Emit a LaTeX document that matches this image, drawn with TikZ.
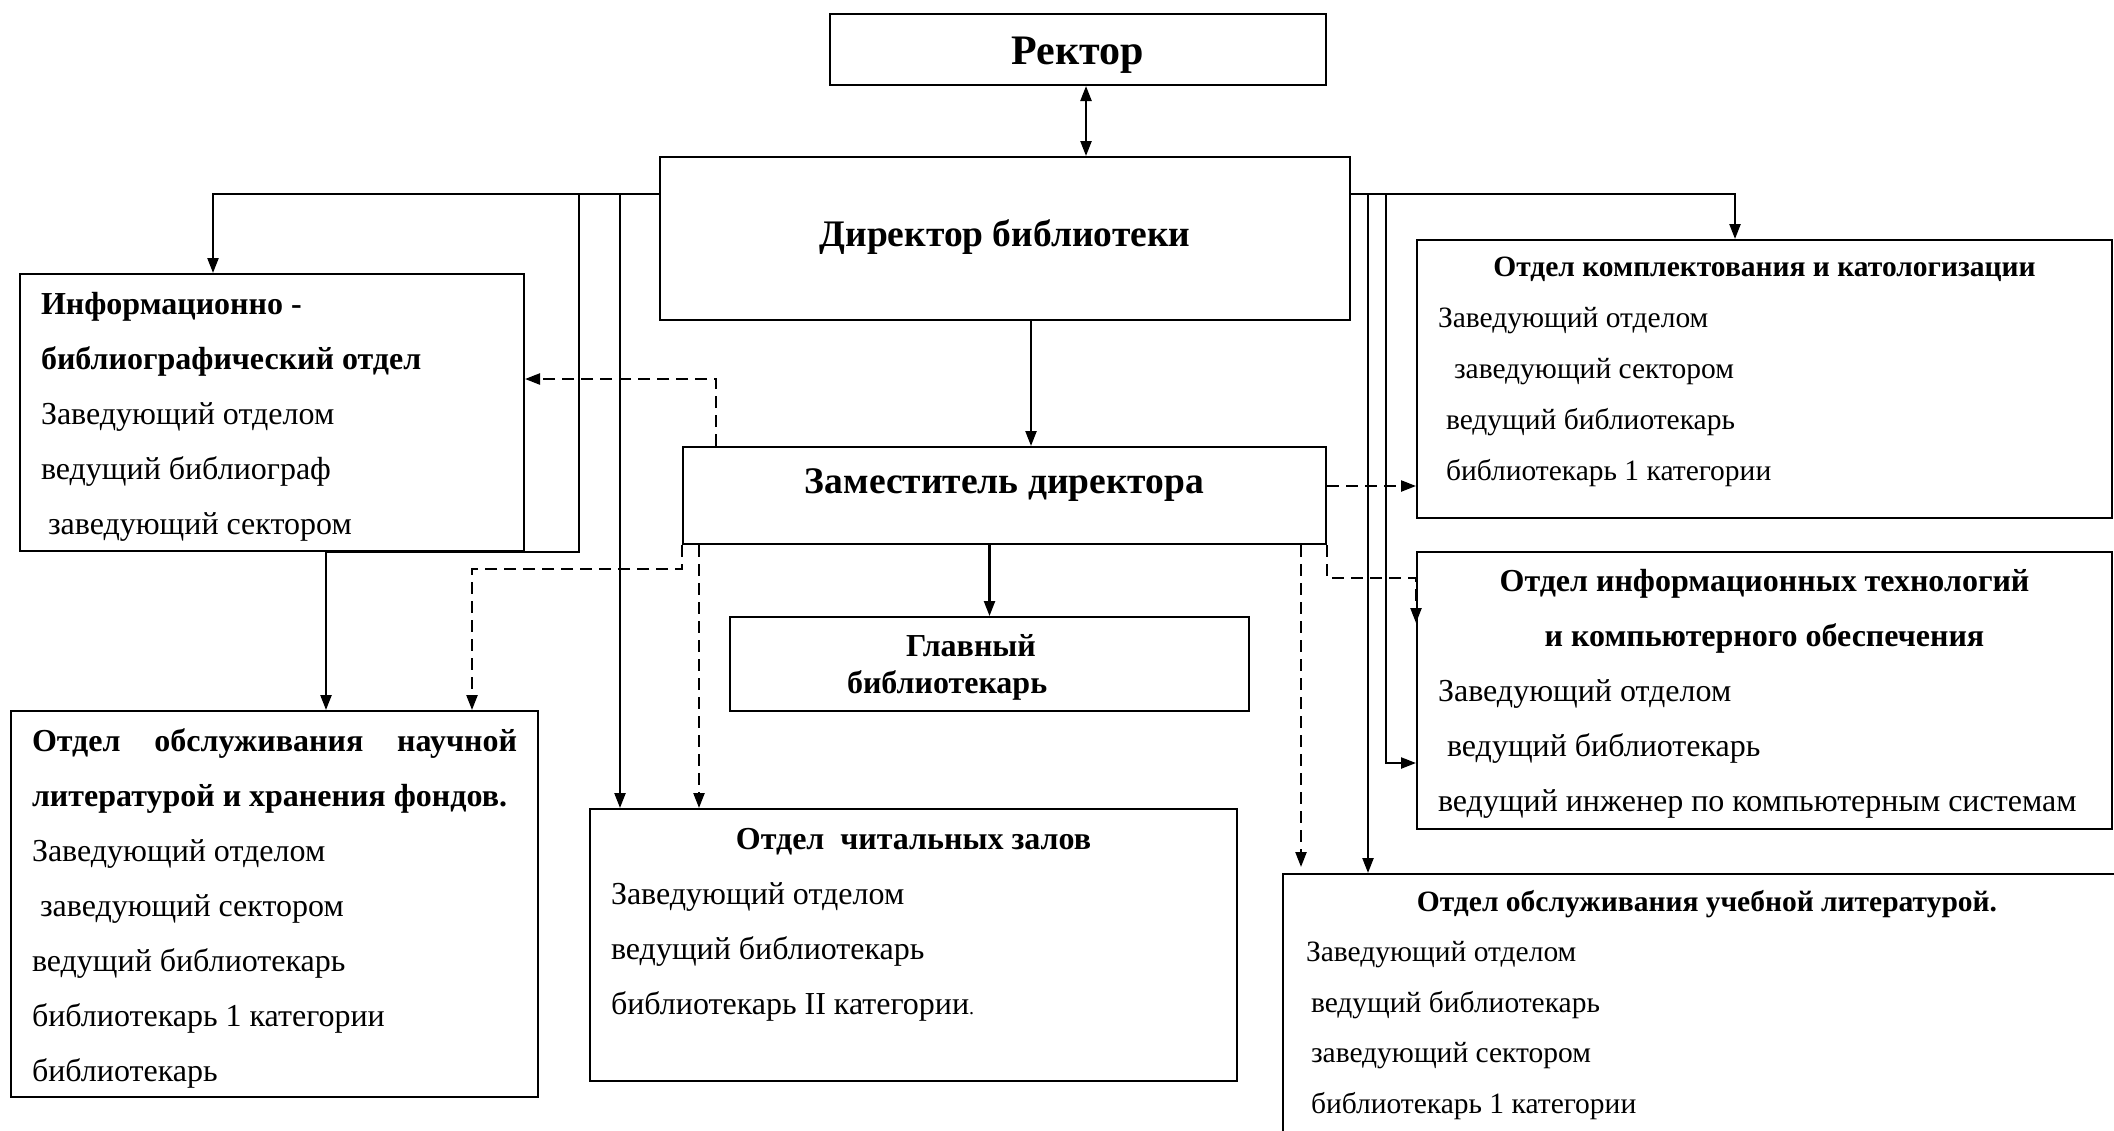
\documentclass[tikz,border=0pt]{standalone}
\usepackage{fontspec}
\setmainfont{Liberation Serif}
\usetikzlibrary{arrows.meta}
\tikzset{
        >={Triangle[length=15pt,width=11pt]},
        unit/.style={draw, line width=2pt, anchor=north west, inner ysep=0pt},
        dept/.style={draw, line width=2pt, anchor=north west, inner xsep=21pt, inner ysep=0pt},
        link/.style={line width=2.3pt, ->},
        sub/.style={link, dash pattern=on 12pt off 7pt}
        }
% width, height, font size, line distance, text
\newcommand{\boxtext}[5]{\parbox[c][#2][t]{#1}{\fontsize{#3}{#4}\selectfont\parskip=0pt #5}}

\begin{document}
\begin{tikzpicture}[x=1pt, y=-1pt]
        \path[use as bounding box, fill=white] (0,0) rectangle (2114,1130);
        \clip (0,0) rectangle (2114,1130);
        % top of the chart
        \node[unit, minimum width=496pt, text height=50pt, text depth=21pt,
              font=\fontsize{42}{50}\selectfont\bfseries] (rector) at (829,13) {Ректор};
        \node[unit, minimum width=690pt, text height=89pt, text depth=74pt,
              font=\fontsize{37.5}{44}\selectfont\bfseries] (director) at (659,156) {Директор библиотеки};
        \node[unit, minimum width=643pt, text height=46pt, text depth=51pt,
              font=\fontsize{37.5}{44}\selectfont\bfseries] (zam) at (682,446) {Заместитель директора};
        \node[dept, inner xsep=0pt] (glavny) at (729,616)
              {\boxtext{519pt}{94pt}{32}{37}{\bfseries\rule{0pt}{39pt}\hspace*{176pt}Главный\\
               \hspace*{117pt}библиотекарь}};
        % departments
        \node[dept] (info) at (19,273)
              {\boxtext{462pt}{277pt}{32}{55}{\bfseries\rule{0pt}{40pt}Информационно -\\
               библиографический отдел\\ \mdseries Заведующий отделом\\ ведущий библиограф\\
               \hspace*{7pt}заведующий сектором}};
        \node[dept] (nauch) at (10,710)
              {\boxtext{485pt}{386pt}{32}{55}{{\bfseries\rule{0pt}{40pt}Отдел обслуживания научной\linebreak
               литературой и хранения фондов.\par}
               Заведующий отделом\\ \hspace*{8pt}заведующий сектором\\ ведущий библиотекарь\\
               библиотекарь 1 категории\\ библиотекарь}};
        \node[dept] (chit) at (589,808)
              {\boxtext{605pt}{272pt}{32}{55}{{\centering\bfseries\rule{0pt}{40pt}Отдел\ \ читальных залов\par}
               Заведующий отделом\\ ведущий библиотекарь\\
               библиотекарь II категории{\fontsize{20}{55}\selectfont.}}};
        \node[dept] (komp) at (1416,239)
              {\boxtext{653pt}{278pt}{29.5}{51}{{\centering\bfseries\rule{0pt}{36pt}Отдел комплектования и катологизации\par}
               Заведующий отделом\\ \hspace*{16pt}заведующий сектором\\ \hspace*{8pt}ведущий библиотекарь\\
               \hspace*{8pt}библиотекарь 1 категории}};
        \node[dept] (it) at (1416,551)
              {\boxtext{653pt}{277pt}{32}{55}{{\centering\bfseries\rule{0pt}{39pt}Отдел информационных технологий\\
               и компьютерного обеспечения\par}
               Заведующий отделом\\ \hspace*{9pt}ведущий библиотекарь\\
               ведущий инженер по компьютерным системам}};
        \node[dept] (uch) at (1282,873)
              {\boxtext{806pt}{290pt}{29.5}{50.5}{{\centering\bfseries\rule{0pt}{37pt}Отдел обслуживания учебной литературой.\par}
               \hspace*{2pt}Заведующий отделом\\ \hspace*{7pt}ведущий библиотекарь\\
               \hspace*{7pt}заведующий сектором\\ \hspace*{7pt}библиотекарь 1 категории}};
        % direct subordination
        \draw[link, <->] ([xshift=8pt]rector.south) -- ([xshift=8pt]rector.south |- director.north);
        \draw[link] ([yshift=-38pt]director.north west) -| ([xshift=194pt]info.north west);
        \draw[link] ([yshift=-38pt]director.north west) -| ([xshift=54pt]info.south east)
              -| ([xshift=316pt]nauch.north west);
        \draw[link] ([yshift=-38pt]director.north west) -| ([xshift=31pt]chit.north west);
        \draw[link] ([xshift=26pt]director.south) -- ([xshift=26pt]director.south |- zam.north);
        \draw[link] ([yshift=-38pt]director.north east) -| ([xshift=319pt]komp.north west);
        \draw[link] ([yshift=-38pt]director.north east) -| ([xshift=86pt]uch.north west);
        \draw[link] ([yshift=-38pt]director.north east) -| ([xshift=-30pt,yshift=-212pt]it.north west)
              -- ([yshift=-212pt]it.north west);
        \draw[link] (zam.south -| glavny.north) -- (glavny.north);
        % functional links
        \draw[sub] ([xshift=34pt]zam.north west) |- ([yshift=-106pt]info.north east);
        \draw[sub] (zam.south west) -- ++(0,24) -| ([xshift=462pt]nauch.north west);
        \draw[sub] ([xshift=17pt]zam.south west) -- ([xshift=17pt]zam.south west |- chit.north);
        \draw[sub] ([xshift=-26pt]zam.south east) -- ([xshift=-26pt,yshift=6pt]zam.south east |- uch.north);
        \draw[sub] ([yshift=-40pt]zam.north east) -- ([yshift=-40pt]zam.north east -| komp.west);
        \draw[sub] (zam.south east) -- ++(0,33) -| ([yshift=-72pt]it.north west);
\end{tikzpicture}
\end{document}
